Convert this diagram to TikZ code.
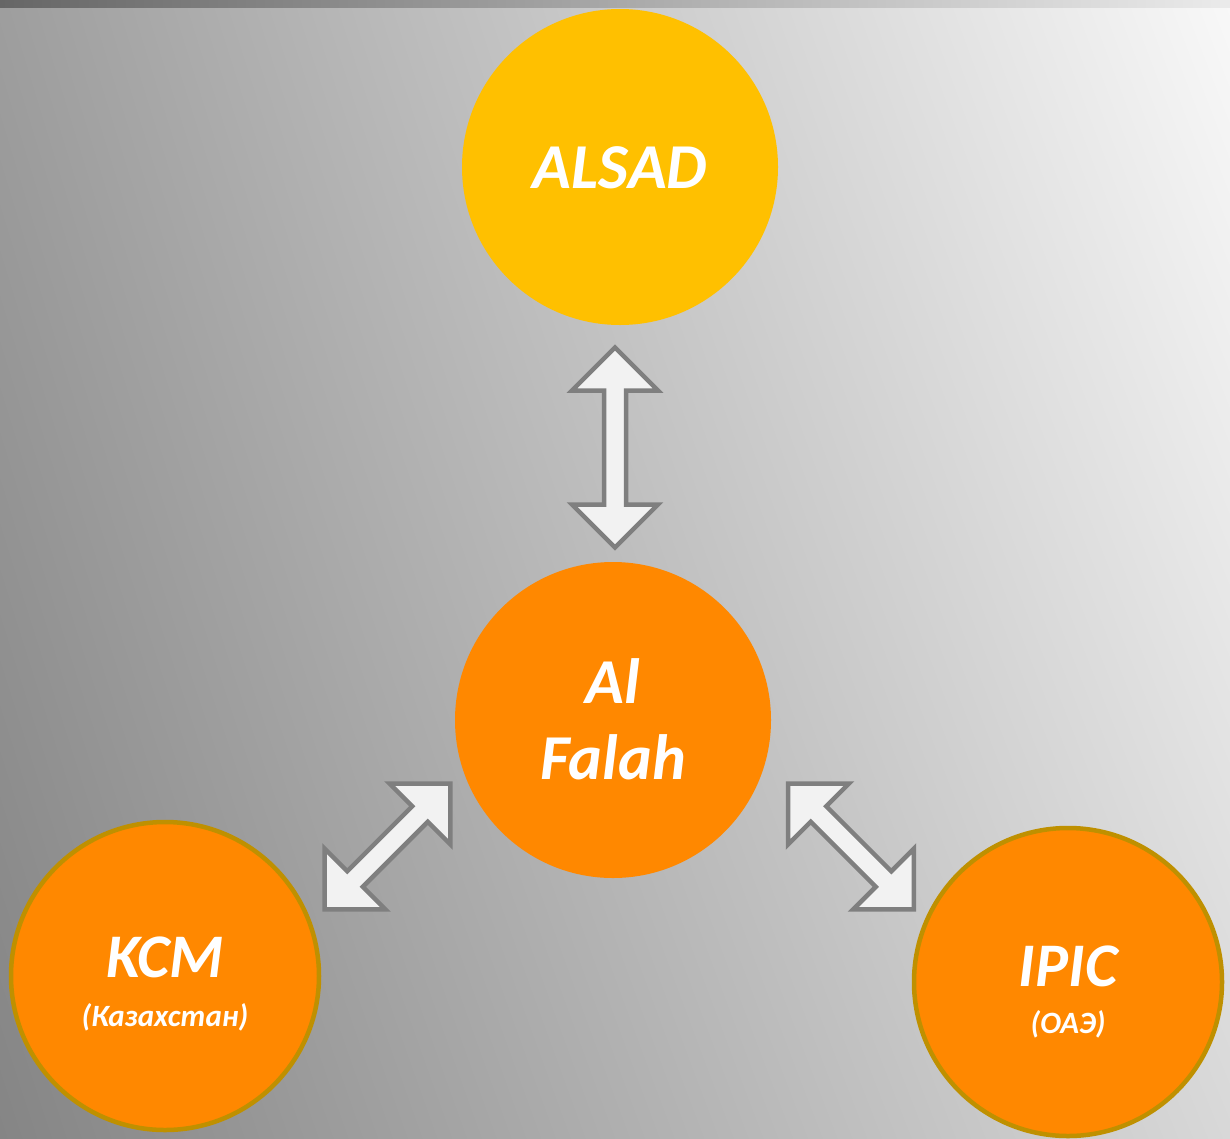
\documentclass[tikz,border=0pt]{standalone}
\usepackage{fontspec}
\usetikzlibrary{shadings}
\setmainfont{Carlito}
\definecolor{bgtl}{HTML}{9E9E9E}
\definecolor{bgtr}{HTML}{F8F8F8}
\definecolor{bgbl}{HTML}{858585}
\definecolor{bgbr}{HTML}{D8D8D8}
\definecolor{gold}{HTML}{FFC000}
\definecolor{orng}{HTML}{FF8800}
\definecolor{rim}{HTML}{BF9000}
\definecolor{arrfill}{HTML}{F2F2F2}
\definecolor{arrline}{HTML}{7F7F7F}
\tikzset{
  bubble/.style={circle, inner sep=0pt, minimum size=316pt},
  goldbubble/.style={bubble, fill=gold},
  orangebubble/.style={bubble, fill=orng},
  rimbubble/.style={bubble, fill=orng, draw=rim, line width=4.5pt, minimum size=308pt},
  bigtext/.style={text=white, font=\bfseries\itshape\fontsize{64}{77}\selectfont, anchor=base, inner sep=0pt},
  smalltext/.style={text=white, font=\bfseries\itshape\fontsize{31}{36}\selectfont, anchor=base, inner sep=0pt},
  blockarrow/.style={fill=arrfill, draw=arrline, line width=4.5pt, line join=miter},
}
\newcommand{\dblblock}[1]{% #1 = half length
  \draw[blockarrow] (-#1,0) -- (-#1+43,43) -- (-#1+43,11) -- (#1-43,11) -- (#1-43,43)
    -- (#1,0) -- (#1-43,-43) -- (#1-43,-11) -- (-#1+43,-11) -- (-#1+43,-43) -- cycle;}
\begin{document}
\begin{tikzpicture}[x=1pt,y=-1pt]
\useasboundingbox (0,0) rectangle (1230,1138);
% background
\shade[upper left=bgtl, upper right=bgtr, lower left=bgbl, lower right=bgbr] (0,0) rectangle (1230,1138);
\shade[left color=black!60, right color=black!8] (0,0) rectangle (1230,7);

% circles
\node[goldbubble] (alsad) at (620,167) {};
\node[orangebubble] (falah) at (613,720) {};
\node[rimbubble] (kcm) at (165,976) {};
\node[rimbubble] (ipic) at (1068,982) {};

% labels
\node[bigtext] (talsad) at (620,188) {ALSAD};
\node[bigtext] (tal) at (613,703) {Al};
\node[bigtext] (tfalah) at (613,779) {Falah};
\node[bigtext, font=\bfseries\itshape\fontsize{62}{70}\selectfont] (tkcm) at (165,977) {KCM};
\node[smalltext] (tkz) at (165,1026) {(Казахстан)};
\node[bigtext, font=\bfseries\itshape\fontsize{62}{70}\selectfont] (tipic) at (1068,986) {IPIC};
\node[smalltext] (toae) at (1068,1033) {(ОАЭ)};

% block arrows
\begin{scope}[shift={(615,447.5)}, rotate=90] \dblblock{100} \end{scope}
\begin{scope}[shift={(387.5,846.5)}, rotate=45] \dblblock{89} \end{scope}
\begin{scope}[shift={(851,846.5)}, rotate=-45] \dblblock{89} \end{scope}
\end{tikzpicture}
\end{document}
